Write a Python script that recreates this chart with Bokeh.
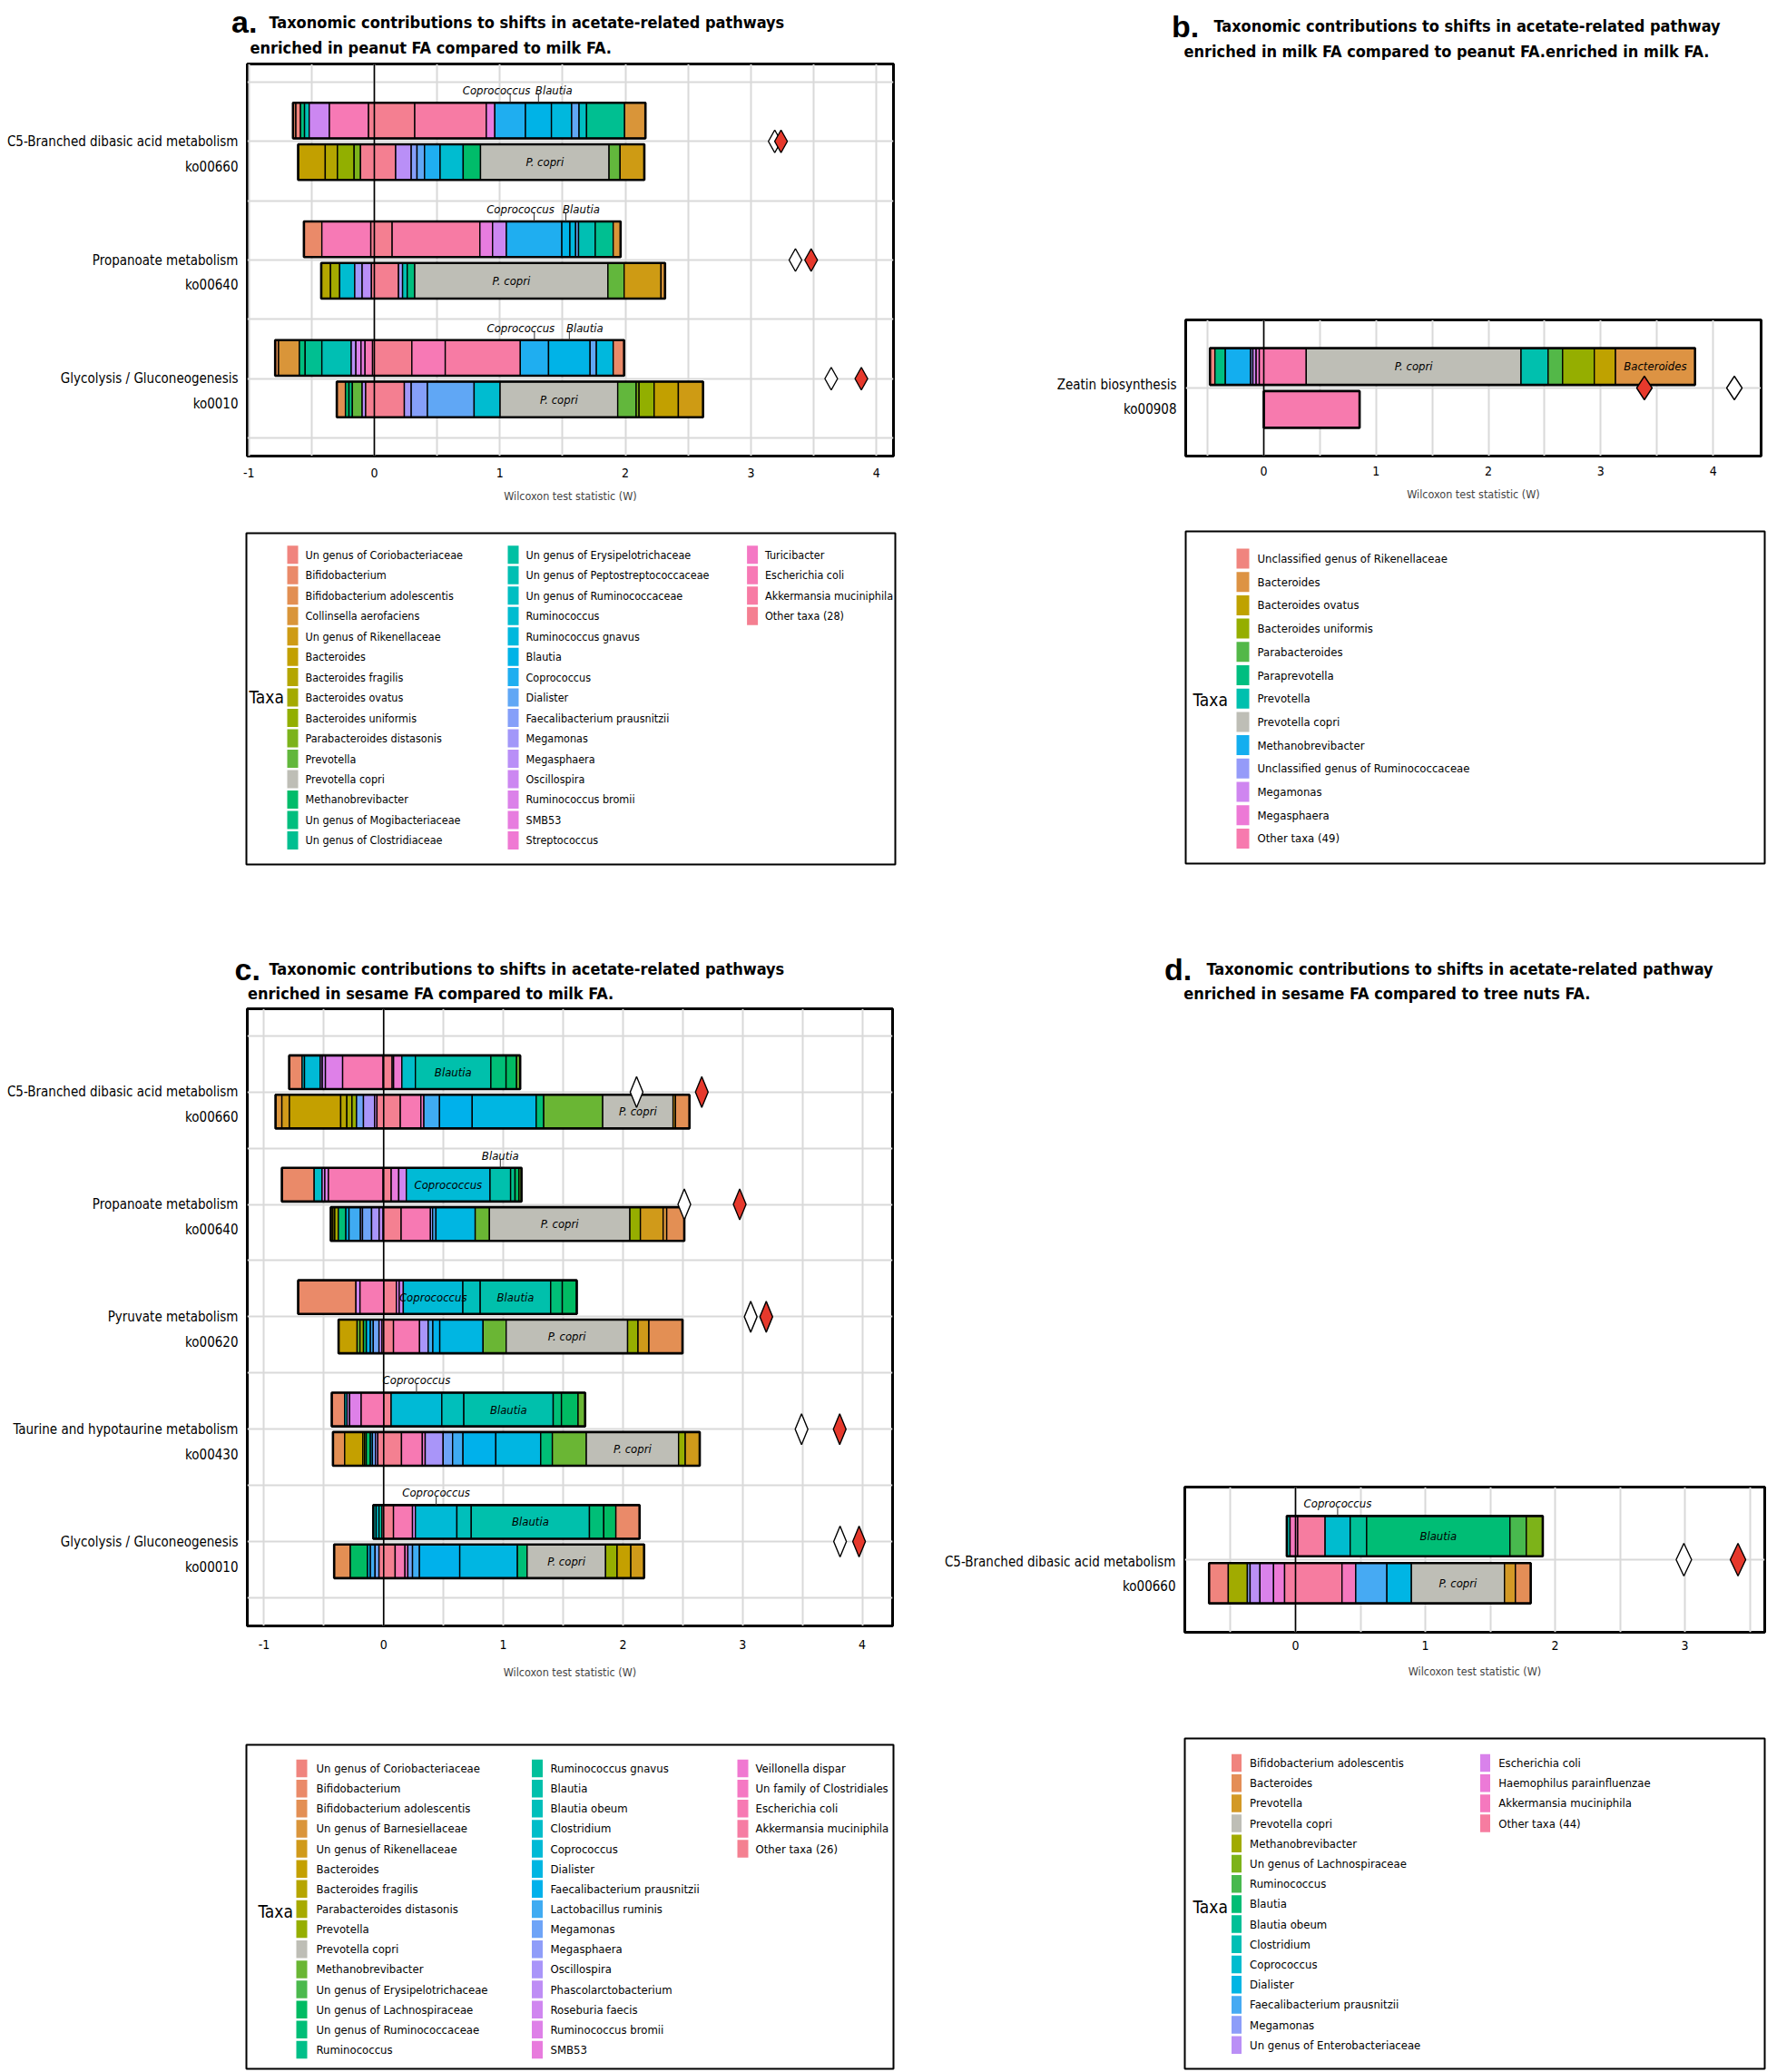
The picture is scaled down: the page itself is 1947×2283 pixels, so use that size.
import math
from bokeh.plotting import figure
from bokeh.models import Range1d, FixedTicker, Span, ColumnDataSource
from bokeh.layouts import column, row
from bokeh.embed import file_html
from bokeh.resources import INLINE
from bokeh.core.properties import value

FONT = "DejaVu Sans Condensed"
SANS = "Liberation Sans"

# ======================= DATA =======================
# ---- panel a ----
A_TAXA = ["Un genus of Coriobacteriaceae", "Bifidobacterium", "Bifidobacterium adolescentis",
          "Collinsella aerofaciens", "Un genus of Rikenellaceae", "Bacteroides", "Bacteroides fragilis",
          "Bacteroides ovatus", "Bacteroides uniformis", "Parabacteroides distasonis", "Prevotella",
          "Prevotella copri", "Methanobrevibacter", "Un genus of Mogibacteriaceae", "Un genus of Clostridiaceae",
          "Un genus of Erysipelotrichaceae", "Un genus of Peptostreptococcaceae", "Un genus of Ruminococcaceae",
          "Ruminococcus", "Ruminococcus gnavus", "Blautia", "Coprococcus", "Dialister",
          "Faecalibacterium prausnitzii", "Megamonas", "Megasphaera", "Oscillospira", "Ruminococcus bromii",
          "SMB53", "Streptococcus", "Turicibacter", "Escherichia coli", "Akkermansia muciniphila",
          "Other taxa (28)"]
A_PATHWAYS = ["C5-Branched dibasic acid metabolism", "Propanoate metabolism", "Glycolysis / Gluconeogenesis"]
A_CODES = ["ko00660", "ko00640", "ko0010"]
A_TOP_EDGES = [
    [-0.648, -0.625, -0.588, -0.556, -0.519, -0.358, -0.046, 0.322, 0.892, 0.960, 1.204, 1.411, 1.572, 1.631, 1.691, 1.994, 2.160],
    [-0.561, -0.418, -0.028, 0.142, 0.841, 0.942, 1.052, 1.494, 1.558, 1.604, 1.627, 1.760, 1.903, 1.962],
    [-0.790, -0.763, -0.597, -0.551, -0.418, -0.184, -0.147, -0.106, -0.074, -0.014, 0.299, 0.565, 1.163, 1.388, 1.719, 1.769, 1.903, 1.990],
]
A_TOP_TAXA = [
    [1, 0, 13, 16, 26, 31, 33, 32, 28, 21, 20, 19, 22, 17, 14, 3],
    [1, 31, 33, 32, 28, 26, 21, 20, 19, 22, 16, 14, 3],
    [2, 3, 13, 14, 16, 25, 27, 28, 31, 33, 31, 32, 21, 20, 22, 19, 1],
]
A_BOT_EDGES = [
    [-0.607, -0.391, -0.294, -0.161, -0.110, 0.170, 0.294, 0.340, 0.400, 0.524, 0.708, 0.846, 1.870, 1.958, 2.151],
    [-0.423, -0.349, -0.276, -0.156, -0.097, -0.023, 0.193, 0.225, 0.262, 0.322, 1.861, 1.990, 2.284, 2.316],
    [-0.299, -0.230, -0.202, -0.175, -0.097, -0.069, 0.239, 0.294, 0.423, 0.795, 1.002, 1.939, 2.086, 2.109, 2.229, 2.422, 2.619],
]
A_BOT_TAXA = [
    [5, 6, 8, 9, 33, 25, 23, 22, 21, 18, 12, 11, 10, 4],
    [6, 7, 18, 24, 25, 33, 24, 16, 13, 11, 10, 4, 3],
    [2, 12, 13, 10, 25, 33, 24, 23, 22, 18, 11, 10, 9, 8, 5, 4],
]
A_WHITE = [3.19, 3.355, 3.64]
A_RED = [3.24, 3.48, 3.88]
A_LABELS = [(0, 0, 9, "Coprococcus", "above"), (0, 0, 10, "Blautia", "above"), (0, 1, 11, "P. copri", "in"),
            (1, 0, 6, "Coprococcus", "above"), (1, 0, 7, "Blautia", "above"), (1, 1, 9, "P. copri", "in"),
            (2, 0, 12, "Coprococcus", "above"), (2, 0, 13, "Blautia", "above"), (2, 1, 10, "P. copri", "in")]

# ---- panel b ----
B_TAXA = ["Unclassified genus of Rikenellaceae", "Bacteroides", "Bacteroides ovatus", "Bacteroides uniformis",
          "Parabacteroides", "Paraprevotella", "Prevotella", "Prevotella copri", "Methanobrevibacter",
          "Unclassified genus of Ruminococcaceae", "Megamonas", "Megasphaera", "Other taxa (49)"]
B_PATHWAYS = ["Zeatin biosynthesis"]
B_CODES = ["ko00908"]
B_TOP_EDGES = [[-0.479, -0.435, -0.342, -0.117, -0.097, -0.068, -0.040, 0.378, 2.290, 2.531, 2.660, 2.942, 3.131, 3.839]]
B_TOP_TAXA = [[0, 5, 8, 9, 10, 11, 12, 7, 6, 4, 3, 2, 1]]
B_BOT_EDGES = [[0.0, 0.853]]
B_BOT_TAXA = [[12]]
B_WHITE = [4.189]
B_RED = [3.388]
B_LABELS = [(0, 0, 7, "P. copri", "in"), (0, 0, 12, "Bacteroides", "in")]

# ---- panel c ----
C_TAXA = ["Un genus of Coriobacteriaceae", "Bifidobacterium", "Bifidobacterium adolescentis",
          "Un genus of Barnesiellaceae", "Un genus of Rikenellaceae", "Bacteroides", "Bacteroides fragilis",
          "Parabacteroides distasonis", "Prevotella", "Prevotella copri", "Methanobrevibacter",
          "Un genus of Erysipelotrichaceae", "Un genus of Lachnospiraceae", "Un genus of Ruminococcaceae",
          "Ruminococcus", "Ruminococcus gnavus", "Blautia", "Blautia obeum", "Clostridium", "Coprococcus",
          "Dialister", "Faecalibacterium prausnitzii", "Lactobacillus ruminis", "Megamonas", "Megasphaera",
          "Oscillospira", "Phascolarctobacterium", "Roseburia faecis", "Ruminococcus bromii", "SMB53",
          "Veillonella dispar", "Un family of Clostridiales", "Escherichia coli", "Akkermansia muciniphila",
          "Other taxa (26)"]
C_PATHWAYS = ["C5-Branched dibasic acid metabolism", "Propanoate metabolism", "Pyruvate metabolism",
              "Taurine and hypotaurine metabolism", "Glycolysis / Gluconeogenesis"]
C_CODES = ["ko00660", "ko00640", "ko00620", "ko00430", "ko00010"]
C_TOP_EDGES = [
    [-0.790, -0.682, -0.662, -0.530, -0.513, -0.487, -0.343, -0.005, 0.071, 0.083, 0.152, 0.265, 0.896, 1.023, 1.111, 1.141],
    [-0.851, -0.581, -0.515, -0.492, -0.462, -0.005, 0.063, 0.126, 0.189, 0.889, 1.061, 1.098, 1.131, 1.152],
    [-0.715, -0.232, -0.198, 0.0, 0.106, 0.130, 0.164, 0.662, 0.807, 1.396, 1.493, 1.614],
    [-0.434, -0.326, -0.306, -0.285, -0.188, 0.0, 0.0625, 0.486, 0.670, 1.417, 1.486, 1.625, 1.684],
    [-0.087, -0.063, -0.039, -0.014, 0.082, 0.241, 0.265, 0.612, 0.732, 1.720, 1.840, 1.941, 2.139],
]
C_TOP_TAXA = [
    [1, 18, 19, 26, 27, 28, 32, 34, 29, 30, 18, 16, 13, 12, 10],
    [1, 18, 27, 28, 32, 34, 29, 27, 19, 16, 14, 12, 10],
    [1, 27, 32, 34, 28, 27, 19, 17, 16, 13, 12],
    [1, 18, 27, 28, 32, 34, 19, 17, 16, 13, 12, 10],
    [17, 18, 15, 34, 32, 27, 19, 17, 16, 13, 12, 1],
]
C_BOT_EDGES = [
    [-0.904, -0.851, -0.788, -0.359, -0.308, -0.265, -0.227, -0.169, -0.076, -0.056, 0.139, 0.311, 0.336, 0.467, 0.740, 1.275, 1.338, 1.831, 2.419, 2.439, 2.556],
    [-0.442, -0.424, -0.409, -0.379, -0.316, -0.290, -0.194, -0.177, -0.101, -0.038, -0.005, 0.146, 0.391, 0.409, 0.437, 0.765, 0.884, 2.058, 2.146, 2.336, 2.366, 2.513],
    [-0.377, -0.222, -0.198, -0.169, -0.145, -0.111, -0.087, -0.039, -0.014, 0.082, 0.300, 0.372, 0.411, 0.469, 0.831, 1.024, 2.039, 2.126, 2.217, 2.498],
    [-0.424, -0.326, -0.174, -0.160, -0.146, -0.111, -0.094, -0.069, -0.049, 0.149, 0.323, 0.347, 0.497, 0.576, 0.663, 0.9375, 1.3125, 1.410, 1.694, 2.465, 2.521, 2.642],
    [-0.414, -0.279, -0.135, -0.111, -0.072, -0.039, 0.096, 0.178, 0.202, 0.241, 0.299, 0.636, 1.118, 1.199, 1.855, 1.951, 2.066, 2.177],
]
C_BOT_TAXA = [
    [3, 4, 5, 6, 7, 8, 23, 25, 27, 34, 32, 31, 22, 21, 20, 13, 10, 9, 4, 2],
    [4, 6, 7, 13, 21, 22, 24, 23, 25, 26, 34, 32, 24, 22, 20, 10, 9, 8, 4, 3, 2],
    [5, 10, 7, 12, 21, 22, 23, 26, 34, 32, 25, 22, 21, 20, 10, 9, 8, 4, 2],
    [2, 5, 7, 10, 12, 20, 23, 26, 34, 32, 30, 25, 23, 22, 21, 20, 13, 10, 9, 8, 4],
    [2, 12, 20, 22, 23, 34, 32, 30, 23, 22, 21, 20, 13, 9, 8, 5, 4],
]
C_WHITE = [2.114, 2.513, 3.068, 3.493, 3.815]
C_RED = [2.659, 2.976, 3.198, 3.812, 3.974]
C_LABELS = [(0, 0, 11, "Blautia", "in"), (0, 1, 17, "P. copri", "in"),
            (1, 0, 8, "Coprococcus", "in"), (1, 0, 9, "Blautia", "above"), (1, 1, 16, "P. copri", "in"),
            (2, 0, 6, "Coprococcus", "in"), (2, 0, 8, "Blautia", "in"), (2, 1, 15, "P. copri", "in"),
            (3, 0, 6, "Coprococcus", "above"), (3, 0, 8, "Blautia", "in"), (3, 1, 18, "P. copri", "in"),
            (4, 0, 6, "Coprococcus", "above"), (4, 0, 8, "Blautia", "in"), (4, 1, 13, "P. copri", "in")]

# ---- panel d ----
D_TAXA = ["Bifidobacterium adolescentis", "Bacteroides", "Prevotella", "Prevotella copri", "Methanobrevibacter",
          "Un genus of Lachnospiraceae", "Ruminococcus", "Blautia", "Blautia obeum", "Clostridium",
          "Coprococcus", "Dialister", "Faecalibacterium prausnitzii", "Megamonas",
          "Un genus of Enterobacteriaceae", "Escherichia coli", "Haemophilus parainfluenzae",
          "Akkermansia muciniphila", "Other taxa (44)"]
D_PATHWAYS = ["C5-Branched dibasic acid metabolism"]
D_CODES = ["ko00660"]
D_TOP_EDGES = [[-0.067, -0.042, 0.017, 0.228, 0.421, 0.548, 1.652, 1.778, 1.905]]
D_TOP_TAXA = [[9, 17, 18, 10, 8, 7, 6, 5]]
D_BOT_EDGES = [[-0.666, -0.518, -0.371, -0.350, -0.274, -0.169, -0.084, 0.358, 0.464, 0.704, 0.893, 1.610, 1.694, 1.812]]
D_BOT_TAXA = [[0, 4, 13, 14, 15, 16, 18, 17, 12, 11, 3, 2, 1]]
D_WHITE = [2.992]
D_RED = [3.409]
D_LABELS = [(0, 0, 3, "Coprococcus", "above"), (0, 0, 5, "Blautia", "in"), (0, 1, 10, "P. copri", "in")]

X_TICKS = [-1, 0, 1, 2, 3, 4]
X_GRID = [-1.0, -0.5, 0.0, 0.5, 1.0, 1.5, 2.0, 2.5, 3.0, 3.5, 4.0]
X_LABEL = "Wilcoxon test statistic (W)"
TITLE_1 = "Taxonomic contributions to shifts in acetate-related pathways"
TITLE_1S = "Taxonomic contributions to shifts in acetate-related pathway"

# ======================= STYLE / HELPERS =======================
BAR_H = 0.30
GAP = 0.025
GREY = "#BEBEB6"
RED = "#E6392C"


def hcl_hex(h, c=80.0, l=67.0):
    wy, wu, wv = 100.0, 0.1978398, 0.4683363
    hr = math.radians(h)
    U, V = c * math.cos(hr), c * math.sin(hr)
    Y = wy * (((l + 16) / 116) ** 3 if l > 7.999592 else l / 903.3)
    u = U / (13 * l) + wu
    v = V / (13 * l) + wv
    X = 9.0 * Y * u / (4 * v)
    Z = -X / 3 - 5 * Y + 3 * Y / v

    def g(t):
        t = 1.055 * t ** (1 / 2.4) - 0.055 if t > 0.00304 else 12.92 * t
        return int(round(255 * min(1.0, max(0.0, t))))

    r = g((3.240479 * X - 1.537150 * Y - 0.498535 * Z) / wy)
    gg = g((-0.969256 * X + 1.875992 * Y + 0.041556 * Z) / wy)
    b = g((0.055648 * X - 0.204043 * Y + 1.057311 * Z) / wy)
    return "#%02X%02X%02X" % (r, gg, b)


def palette(taxa):
    n = len(taxa)
    cols = [hcl_hex(15 + 360.0 * i / n) for i in range(n)]
    return [GREY if t == "Prevotella copri" else c for t, c in zip(taxa, cols)]


def base_fig(W, H, xr, yr, borders, axes=True):
    bl, br, bt, bb = borders
    kw = {} if axes else dict(x_axis_location=None, y_axis_location=None)
    p = figure(width=W, height=H, x_range=Range1d(*xr), y_range=Range1d(*yr),
               output_backend="svg", toolbar_location=None, tools="", title=None,
               min_border_left=bl, min_border_right=br, min_border_top=bt, min_border_bottom=bb, **kw)
    try:
        p.frame_align = False
    except Exception:
        pass
    p.background_fill_color = "white"
    p.border_fill_color = "white"
    if not axes:
        for g in p.grid:
            g.visible = False
            g.grid_line_color = None
    return p


def make_title(W, H, items):
    p = base_fig(W, H, (0, W), (H, 0), (0, 0, 0, 0), axes=False)
    p.outline_line_color = None
    for txt, x, y, font, size in items:
        p.text(x=[x], y=[y], text=[txt], text_font=value(font), text_font_size=size,
               text_font_style="bold", text_align="left", text_baseline="alphabetic", text_color="black")
    return p


def make_panel(cfg):
    taxa = cfg["taxa"]
    pal = palette(taxa)
    x0, x1 = cfg["xr"]
    y0, y1 = cfg["yr"]
    W, H = cfg["size"]
    bl, br, bt, bb = cfg["borders"]
    fw, fh = W - bl - br, H - bt - bb
    ppx, ppy = fw / (x1 - x0), fh / (y1 - y0)
    p = base_fig(W, H, cfg["xr"], cfg["yr"], cfg["borders"])
    p.outline_line_color = "black"
    p.outline_line_width = 3

    n = len(cfg["pathways"])
    p.xgrid.ticker = FixedTicker(ticks=X_GRID)
    p.ygrid.ticker = FixedTicker(ticks=cfg["ygrid"])
    for gr in (p.xgrid, p.ygrid):
        gr.grid_line_color = "#D9D9D9"
        gr.grid_line_width = 2

    p.xaxis.ticker = FixedTicker(ticks=X_TICKS)
    p.xaxis.major_label_overrides = {t: str(t) for t in X_TICKS}
    p.xaxis.axis_label = X_LABEL
    p.xaxis.axis_label_text_font = FONT
    p.xaxis.axis_label_text_font_size = "12.5px"
    p.xaxis.axis_label_text_font_style = "normal"
    p.xaxis.major_label_standoff = cfg["xstand"][0]
    p.xaxis.axis_label_standoff = cfg["xstand"][1]
    yt = [round(n - k - cfg["yshift"] / ppy, 5) for k in range(n)]
    p.yaxis.ticker = FixedTicker(ticks=yt)
    p.yaxis.major_label_overrides = {t: nm + "\n" + cd for t, nm, cd in zip(yt, cfg["pathways"], cfg["codes"])}
    p.yaxis.major_label_standoff = 10
    p.yaxis.major_label_text_line_height = 1.55
    for ax in (p.xaxis, p.yaxis):
        ax.axis_line_color = None
        ax.major_tick_line_color = None
        ax.minor_tick_line_color = None
        ax.major_tick_out = 0
        ax.major_tick_in = 0
        ax.major_label_text_font = FONT
        ax.major_label_text_color = "black"
    p.xaxis.major_label_text_font_size = "14px"
    p.yaxis.major_label_text_font_size = "15px"

    seg = dict(l=[], r=[], b=[], t=[], c=[])
    out = dict(l=[], r=[], b=[], t=[])
    bars = {}
    for k in range(n):
        cy = n - k
        for j, (edges, tx) in enumerate([(cfg["top_edges"][k], cfg["top_taxa"][k]),
                                         (cfg["bot_edges"][k], cfg["bot_taxa"][k])]):
            if j == 0:
                b, t = cy + GAP, cy + GAP + BAR_H
            else:
                b, t = cy - GAP - BAR_H, cy - GAP
            bars[(k, j)] = (edges, b, t)
            for s, ti in enumerate(tx):
                seg["l"].append(edges[s]); seg["r"].append(edges[s + 1])
                seg["b"].append(b); seg["t"].append(t); seg["c"].append(pal[ti])
            out["l"].append(min(edges)); out["r"].append(max(edges))
            out["b"].append(b); out["t"].append(t)
    p.quad(left="l", right="r", bottom="b", top="t", fill_color="c", line_color="black",
           line_width=1.4, source=ColumnDataSource(seg))
    p.quad(left="l", right="r", bottom="b", top="t", fill_color=None, line_color="black",
           line_width=2.6, source=ColumnDataSource(out))

    p.add_layout(Span(location=0, dimension="height", line_color="black", line_width=1.6))

    lab_in = dict(x=[], y=[], text=[])
    lab_up = dict(x=[], y=[], text=[], xo=[], y1=[])
    for (k, j, s, txt, place) in cfg["labels"]:
        edges, b, t = bars[(k, j)]
        mid = 0.5 * (edges[s] + edges[s + 1])
        if place == "in":
            lab_in["x"].append(mid); lab_in["y"].append(0.5 * (b + t)); lab_in["text"].append(txt)
        else:
            lab_up["x"].append(mid); lab_up["y"].append(t); lab_up["text"].append(txt)
            lab_up["xo"].append(cfg["up_offsets"].get(txt, 0))
            lab_up["y1"].append(t + 10.0 / ppy)
    if lab_in["x"]:
        p.text(x="x", y="y", text="text", source=ColumnDataSource(lab_in),
               text_font=value(FONT), text_font_style="italic", text_font_size="13px",
               text_align="center", text_baseline="middle", text_color="black")
    if lab_up["x"]:
        src = ColumnDataSource(lab_up)
        p.segment(x0="x", y0="y", x1="x", y1="y1", line_color="#333333", line_width=1, source=src)
        p.text(x="x", y="y", text="text", x_offset="xo", y_offset=-13.5, source=src,
               text_font=value(FONT), text_font_style="italic", text_font_size="13px",
               text_align="center", text_baseline="alphabetic", text_color="black")

    dw, dh = cfg["diamond"]
    dx, dy = 0.5 * dw / ppx, 0.5 * dh / ppy
    for vals, col in ((cfg["white"], "white"), (cfg["red"], RED)):
        xs = [[v - dx, v, v + dx, v] for v in vals]
        ys = [[n - k, n - k + dy, n - k, n - k - dy] for k in range(len(vals))]
        p.patches(xs, ys, fill_color=col, line_color="black", line_width=1.4)
    return p


def make_legend(cfg):
    taxa = cfg["taxa"]
    pal = palette(taxa)
    W, H = cfg["size"]
    bl, br, bt, bb = cfg["borders"]
    fw, fh = W - bl - br, H - bt - bb
    p = base_fig(W, H, (0, fw), (fh, 0), cfg["borders"], axes=False)
    p.outline_line_color = "black"
    p.outline_line_width = 2
    per = cfg["per_col"]
    sx, sy, tx = [], [], []
    for i in range(len(taxa)):
        c, r = divmod(i, per)
        sx.append(cfg["sw_x"][c]); tx.append(cfg["tx_x"][c])
        sy.append(cfg["row0"] + r * cfg["step"])
    p.rect(x=sx, y=sy, width=cfg["sw"][0], height=cfg["sw"][1], fill_color=pal, line_color=None)
    p.text(x=tx, y=sy, text=taxa, text_font=value(FONT), text_font_size=cfg["fs"],
           text_align="left", text_baseline="middle", text_color="black")
    p.text(x=[cfg["taxa_pos"][0]], y=[cfg["taxa_pos"][1]], text=["Taxa"], text_font=value(FONT),
           text_font_size="19px", text_align="left", text_baseline="middle", text_color="black")
    return p


W1, W2 = 1000, 946

ta = make_title(W1, 66, [("a.", 254.6, 23.5, SANS, "34px"), (TITLE_1, 296, 23.5, FONT, "18px"),
                         ("enriched in peanut FA compared to milk FA.", 275, 52, FONT, "18px")])
tb = make_title(W2, 66, [("b.", 290.5, 28, SANS, "34px"), (TITLE_1S, 337, 28, FONT, "18px"),
                         ("enriched in milk FA compared to peanut FA.enriched in milk FA.", 304, 55.5, FONT, "18px")])
tc = make_title(W1, 96, [("c.", 258, 57, SANS, "34px"), (TITLE_1, 296, 57, FONT, "18px"),
                         ("enriched in sesame FA compared to milk FA.", 272.6, 84, FONT, "18px")])
td = make_title(W2, 96, [("d.", 282.6, 57, SANS, "34px"), (TITLE_1S, 329, 57, FONT, "18px"),
                         ("enriched in sesame FA compared to tree nuts FA.", 303.7, 84, FONT, "18px")])

fa = make_panel(dict(taxa=A_TAXA, pathways=A_PATHWAYS, codes=A_CODES, top_edges=A_TOP_EDGES,
                     top_taxa=A_TOP_TAXA, bot_edges=A_BOT_EDGES, bot_taxa=A_BOT_TAXA,
                     white=A_WHITE, red=A_RED, labels=A_LABELS,
                     up_offsets={"Coprococcus": -15, "Blautia": 17},
                     xr=(-1.012, 4.136), yr=(0.348, 3.652), size=(W1, 514), borders=(272, 16, 4, 78),
                     ygrid=[0.5, 1, 1.5, 2, 2.5, 3, 3.5], yshift=14, xstand=(13, 10), diamond=(14, 25)))
fb = make_panel(dict(taxa=B_TAXA, pathways=B_PATHWAYS, codes=B_CODES, top_edges=B_TOP_EDGES,
                     top_taxa=B_TOP_TAXA, bot_edges=B_BOT_EDGES, bot_taxa=B_BOT_TAXA,
                     white=B_WHITE, red=B_RED, labels=B_LABELS, up_offsets={},
                     xr=(-0.695, 4.427), yr=(0.445, 1.555), size=(W2, 514), borders=(306, 6, 286, 78),
                     ygrid=[1], yshift=10, xstand=(11, 10), diamond=(17, 26)))
fc = make_panel(dict(taxa=C_TAXA, pathways=C_PATHWAYS, codes=C_CODES, top_edges=C_TOP_EDGES,
                     top_taxa=C_TOP_TAXA, bot_edges=C_BOT_EDGES, bot_taxa=C_BOT_TAXA,
                     white=C_WHITE, red=C_RED, labels=C_LABELS, up_offsets={},
                     xr=(-1.14, 4.254), yr=(0.25, 5.74), size=(W1, 804), borders=(272, 17, 5, 119),
                     ygrid=[0.5, 1, 1.5, 2, 2.5, 3, 3.5, 4, 4.5, 5, 5.5], yshift=14, xstand=(15, 15),
                     diamond=(14, 34)))
fd = make_panel(dict(taxa=D_TAXA, pathways=D_PATHWAYS, codes=D_CODES, top_edges=D_TOP_EDGES,
                     top_taxa=D_TOP_TAXA, bot_edges=D_BOT_EDGES, bot_taxa=D_BOT_TAXA,
                     white=D_WHITE, red=D_RED, labels=D_LABELS, up_offsets={},
                     xr=(-0.853, 3.615), yr=(0.46, 1.54), size=(W2, 804), borders=(305, 2, 532, 112),
                     ygrid=[1], yshift=16, xstand=(9, 13), diamond=(17, 36)))

la = make_legend(dict(taxa=A_TAXA, size=(W1, 430), borders=(271, 14, 7, 58), per_col=15,
                      sw_x=[51, 294, 557.6], tx_x=[65, 308, 571.5], sw=(12, 20), row0=23.8, step=22.47,
                      taxa_pos=(3, 180), fs="12.5px"))
lb = make_legend(dict(taxa=B_TAXA, size=(W2, 430), borders=(306, 2, 5, 59), per_col=13,
                      sw_x=[63], tx_x=[79], sw=(14, 22), row0=30, step=25.7, taxa_pos=(8, 185), fs="13px"))
lc = make_legend(dict(taxa=C_TAXA, size=(W1, 371), borders=(271, 16, 12, 2), per_col=15,
                      sw_x=[61, 320.5, 547], tx_x=[77, 335, 561], sw=(12, 19.5), row0=26, step=22.14,
                      taxa_pos=(13, 183), fs="13px"))
ld = make_legend(dict(taxa=D_TAXA, size=(W2, 371), borders=(305, 2, 5, 2), per_col=15,
                      sw_x=[57, 331], tx_x=[71.6, 345.7], sw=(11, 19.5), row0=27, step=22.2,
                      taxa_pos=(9, 185), fs="13px"))

page = row(column(ta, fa, la, tc, fc, lc), column(tb, fb, lb, td, fd, ld))
open("out.html", "w").write(file_html(page, INLINE))
